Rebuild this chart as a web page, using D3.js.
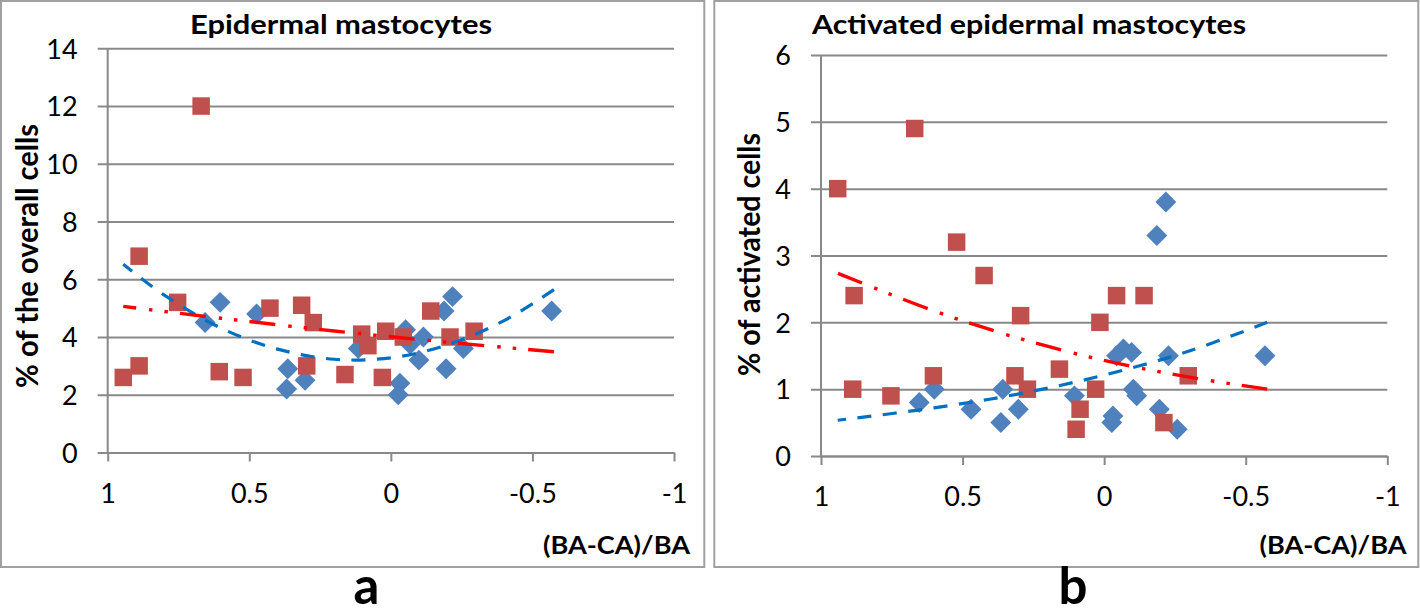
<!DOCTYPE html>
<html><head><meta charset="utf-8">
<script src="https://cdn.jsdelivr.net/npm/d3@7"></script>
<style>html,body{margin:0;padding:0;background:#fff;overflow:hidden} svg{display:block}</style>
</head><body>
<svg id="chart" width="1420" height="614"></svg>
<script>
// ---------- data ----------
const xTicks = [1, 0.5, 0, -0.5, -1];
const xTickLabels = ["1", "0.5", "0", "-0.5", "-1"];
const aYTicks = [0, 2, 4, 6, 8, 10, 12, 14];
const bYTicks = [0, 1, 2, 3, 4, 5, 6];
const titles = ["Epidermal mastocytes", "Activated epidermal mastocytes"];
const yTitles = ["% of the overall cells", "% of activated cells"];
const xTitle = "(BA-CA)/BA";
const panelLetters = ["a", "b"];

const aRedX = [0.945, 0.889, 0.889, 0.753, 0.670, 0.606, 0.522, 0.427, 0.315, 0.274, 0.297, 0.162, 0.103, 0.081, 0.018, 0.030, -0.044, -0.141, -0.209, -0.294];
const aRedY = [2.6, 3.0, 6.8, 5.2, 12.0, 2.8, 2.6, 5.0, 5.1, 4.5, 3.0, 2.7, 4.1, 3.7, 4.2, 2.6, 4.0, 4.9, 4.0, 4.2];
const aBlueX = [0.656, 0.603, 0.474, 0.364, 0.368, 0.303, 0.115, -0.032, -0.026, -0.052, -0.068, -0.099, -0.115, -0.188, -0.218, -0.195, -0.256, -0.568];
const aBlueY = [4.5, 5.2, 4.8, 2.9, 2.2, 2.5, 3.6, 2.4, 2.0, 4.25, 3.75, 3.2, 4.0, 4.9, 5.4, 2.9, 3.6, 4.9];

const bRedX = [0.941, 0.669, 0.521, 0.424, 0.883, 0.295, 0.015, -0.044, -0.141, 0.888, 0.753, 0.603, 0.315, 0.271, 0.158, 0.030, 0.085, 0.099, -0.297, -0.211];
const bRedY = [4.0, 4.9, 3.2, 2.7, 2.4, 2.1, 2.0, 2.4, 2.4, 1.0, 0.9, 1.2, 1.2, 1.0, 1.3, 1.0, 0.7, 0.4, 1.2, 0.5];
const bBlueX = [0.653, 0.600, 0.470, 0.358, 0.365, 0.303, 0.105, -0.031, -0.027, -0.068, -0.044, -0.097, -0.103, -0.115, -0.218, -0.186, -0.195, -0.227, -0.258, -0.568];
const bBlueY = [0.8, 1.0, 0.7, 1.0, 0.5, 0.7, 0.9, 0.6, 0.5, 1.6, 1.5, 1.55, 1.0, 0.9, 3.8, 3.3, 0.7, 1.5, 0.4, 1.5];

// trend lines, points
const aBlueTrendX = [-0.576, -0.4, -0.2, 0, 0.2, 0.4, 0.6, 0.8, 0.945];
const aBlueTrendY = [5.64, 4.57, 3.73, 3.28, 3.23, 3.58, 4.31, 5.45, 6.52];
const aRedTrendX = [-0.576, -0.2, 0.2, 0.6, 0.945];
const aRedTrendY = [3.49, 3.82, 4.21, 4.65, 5.06];
const bBlueTrendX = [-0.576, -0.3, 0, 0.3, 0.6, 0.941];
const bBlueTrendY = [2.0, 1.57, 1.21, 0.93, 0.72, 0.535];
const bRedTrendX = [-0.576, -0.3, 0, 0.3, 0.6, 0.944];
const bRedTrendY = [1.0, 1.18, 1.43, 1.76, 2.17, 2.74];

// ---------- layout ----------
const zip = (xs, ys) => xs.map((v, i) => [v, ys[i]]);
const panels = [
  { x0: 107.7, x1: 674, yTop: 48.3, yBot: 452.5, yMax: 14, yTicks: aYTicks,
    red: zip(aRedX, aRedY), blue: zip(aBlueX, aBlueY),
    redTrend: zip(aRedTrendX, aRedTrendY), blueTrend: zip(aBlueTrendX, aBlueTrendY),
    bx: 1, bw: 703.3, titleX: 341, titleW: 302, yTitleX: 38.3, yTitleY: 256, yTitleW: 264,
    xTitleR: 690, letterX: 366.5 },
  { x0: 821, x1: 1387.3, yTop: 55, yBot: 456, yMax: 6, yTicks: bYTicks,
    red: zip(bRedX, bRedY), blue: zip(bBlueX, bBlueY),
    redTrend: zip(bRedTrendX, bRedTrendY), blueTrend: zip(bBlueTrendX, bBlueTrendY),
    bx: 714.3, bw: 704, titleX: 1029, titleW: 434, yTitleX: 759.8, yTitleY: 254.5, yTitleW: 243,
    xTitleR: 1406.5, letterX: 1073 }
];

const GRID = "#898989", BORDER = "#a0a0a0";
const RED_M = "#C0504D", BLUE_M = "#4F81BD";
const FONT = "Lato, 'Open Sans', sans-serif";
const svg = d3.select("#chart");

panels.forEach((p, i) => {
  const g = svg.append("g");
  const x = d3.scaleLinear().domain([1, -1]).range([p.x0, p.x1]);
  const y = d3.scaleLinear().domain([0, p.yMax]).range([p.yBot, p.yTop]);

  g.append("rect").attr("x", p.bx).attr("y", 1).attr("width", p.bw).attr("height", 566)
    .attr("fill", "none").attr("stroke", BORDER).attr("stroke-width", 2);

  // y axis with gridlines
  const yAx = g.append("g").attr("transform", `translate(${p.x0 - 10},0)`)
    .call(d3.axisLeft(y).tickValues(p.yTicks).tickFormat(d3.format("d"))
      .tickSize(-(p.x1 - p.x0 + 10)).tickPadding(20));
  yAx.select(".domain").remove();
  yAx.selectAll(".tick line").attr("stroke", GRID).attr("stroke-width", 2);
  yAx.selectAll(".tick text").attr("font-family", FONT).attr("font-size", 27).attr("fill", "#000").attr("dy", "0.36em");

  // x axis
  const xAx = g.append("g").attr("transform", `translate(0,${p.yBot})`)
    .call(d3.axisBottom(x).tickValues(xTicks).tickSize(9).tickSizeOuter(0).tickPadding(22)
      .tickFormat((d, k) => xTickLabels[k]));
  xAx.select(".domain").attr("stroke", GRID).attr("stroke-width", 2);
  xAx.selectAll(".tick line").attr("stroke", GRID).attr("stroke-width", 2);
  xAx.selectAll(".tick text").attr("font-family", FONT).attr("font-size", 27).attr("fill", "#000");

  // vertical axis line
  g.append("line").attr("x1", p.x0).attr("x2", p.x0).attr("y1", p.yTop).attr("y2", p.yBot)
    .attr("stroke", GRID).attr("stroke-width", 2);

  // markers
  g.selectAll(".dia").data(p.blue).join("path")
    .attr("d", d3.symbol().type(d3.symbolSquare).size(14.8 * 14.8))
    .attr("transform", d => `translate(${x(d[0])},${y(d[1])}) rotate(45)`)
    .attr("fill", BLUE_M);
  g.selectAll(".sq").data(p.red).join("path")
    .attr("d", d3.symbol().type(d3.symbolSquare).size(17.5 * 17.5))
    .attr("transform", d => `translate(${x(d[0])},${y(d[1])})`)
    .attr("fill", RED_M);

  // trend lines
  const line = d3.line().x(d => x(d[0])).y(d => y(d[1])).curve(d3.curveCatmullRom.alpha(0.5));
  g.append("path").datum(p.blueTrend).attr("d", line).attr("fill", "none")
    .attr("stroke", "#0070C0").attr("stroke-width", 3.2).attr("stroke-dasharray", "14,11.5");
  g.append("path").datum(p.redTrend).attr("d", line).attr("fill", "none")
    .attr("stroke", "#FF0000").attr("stroke-width", 3.4).attr("stroke-dasharray", "26,12,3.5,12,3.5,13");

  // texts
  g.append("text").text(titles[i]).attr("x", p.titleX).attr("y", 33.5)
    .attr("text-anchor", "middle").attr("font-family", FONT).attr("font-weight", "bold")
    .attr("font-size", 27).attr("textLength", p.titleW).attr("lengthAdjust", "spacingAndGlyphs");
  g.append("text").text(yTitles[i])
    .attr("transform", `translate(${p.yTitleX},${p.yTitleY}) rotate(-90)`)
    .attr("text-anchor", "middle").attr("font-family", FONT).attr("font-weight", "bold")
    .attr("font-size", 30).attr("textLength", p.yTitleW).attr("lengthAdjust", "spacingAndGlyphs");
  g.append("text").text(xTitle).attr("x", p.xTitleR).attr("y", 554)
    .attr("text-anchor", "end").attr("font-family", FONT).attr("font-weight", "bold")
    .attr("font-size", 25).attr("textLength", 147).attr("lengthAdjust", "spacingAndGlyphs");
  g.append("text").text(panelLetters[i]).attr("x", p.letterX).attr("y", 604)
    .attr("text-anchor", "middle").attr("font-family", FONT).attr("font-weight", "bold")
    .attr("font-size", 51);
});
</script>
</body></html>
